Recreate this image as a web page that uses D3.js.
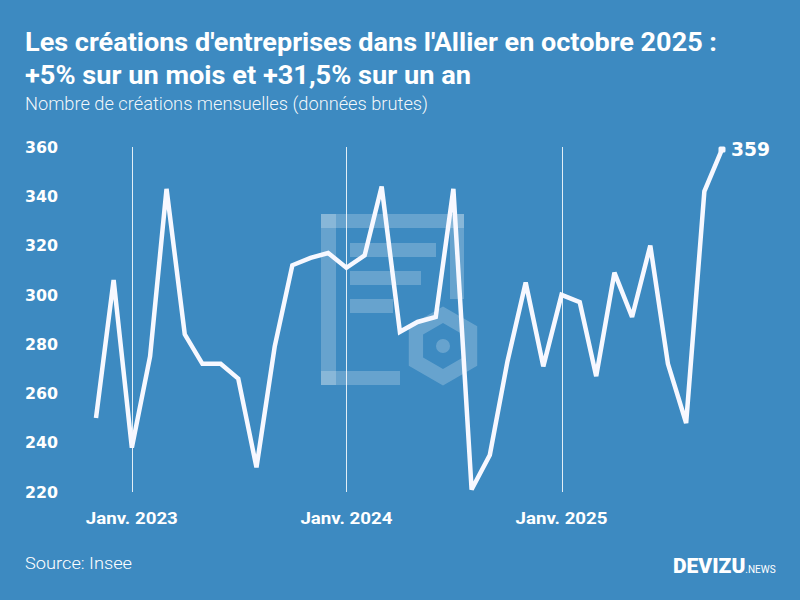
<!DOCTYPE html>
<html>
<head>
<meta charset="utf-8">
<script src="https://cdn.jsdelivr.net/npm/d3@7"></script>
<style>
  html, body { margin: 0; padding: 0; background: #3d8ac1; }
  svg { display: block; }
</style>
</head>
<body>
<svg id="chart" width="800" height="600"></svg>
<script>
// ---- Data ----
const months = [
  "2022-11","2022-12",
  "2023-01","2023-02","2023-03","2023-04","2023-05","2023-06","2023-07","2023-08","2023-09","2023-10","2023-11","2023-12",
  "2024-01","2024-02","2024-03","2024-04","2024-05","2024-06","2024-07","2024-08","2024-09","2024-10","2024-11","2024-12",
  "2025-01","2025-02","2025-03","2025-04","2025-05","2025-06","2025-07","2025-08","2025-09","2025-10"
];
const creations = [
  250, 306,
  238, 275, 343, 284, 272, 272, 266, 230, 279, 312, 315, 317,
  311, 316, 344, 285, 289, 291, 343, 221, 235, 273, 305, 271,
  300, 297, 267, 309, 291, 320, 272, 248, 342, 359
];
const yTicks = [220, 240, 260, 280, 300, 320, 340, 360];
const xTickMonths = ["2023-01", "2024-01", "2025-01"];
const xTickLabels = ["Janv. 2023", "Janv. 2024", "Janv. 2025"];
const titleLines = [
  "Les créations d'entreprises dans l'Allier en octobre 2025 :",
  "+5% sur un mois et +31,5% sur un an"
];
const subtitle = "Nombre de créations mensuelles (données brutes)";
const source = "Source: Insee";

// ---- Setup ----
const parse = d3.timeParse("%Y-%m");
const data = months.map((m, i) => ({ date: parse(m), value: creations[i] }));
const svg = d3.select("#chart");
const W = 800, H = 600;
const white = "#ffffff";

svg.append("rect").attr("width", W).attr("height", H).attr("fill", "#3d8ac1");

const x = d3.scaleTime()
  .domain(d3.extent(data, d => d.date))
  .range([96, 722]);
const y = d3.scaleLinear()
  .domain([220, 360])
  .range([492, 147]);

// ---- Watermark ----
const wm = svg.append("g").attr("fill", white).attr("fill-opacity", 0.22);
wm.append("rect").attr("x", 321).attr("y", 214).attr("width", 143).attr("height", 14);
wm.append("rect").attr("x", 321).attr("y", 214).attr("width", 15).attr("height", 171);
wm.append("rect").attr("x", 450).attr("y", 214).attr("width", 14).attr("height", 85);
wm.append("rect").attr("x", 321).attr("y", 371).attr("width", 79).attr("height", 14);
wm.append("rect").attr("x", 350).attr("y", 243).attr("width", 86).attr("height", 14);
wm.append("rect").attr("x", 350).attr("y", 271).attr("width", 71).attr("height", 14);
wm.append("rect").attr("x", 350).attr("y", 299).attr("width", 43).attr("height", 14);
function hexPts(cx, cy, r) {
  return d3.range(6).map(k => {
    const a = Math.PI / 2 + k * Math.PI / 3;
    return [cx + r * Math.cos(a), cy - r * Math.sin(a)];
  });
}
const hcx = 443, hcy = 346;
const outer = hexPts(hcx, hcy, 39.5), inner = hexPts(hcx, hcy, 23);
const hexPath = "M" + outer.join("L") + "Z" + "M" + inner.reverse().join("L") + "Z";
wm.append("path").attr("d", hexPath).attr("fill-rule", "evenodd");
wm.append("circle").attr("cx", hcx).attr("cy", hcy).attr("r", 7);

// ---- Vertical gridlines at January ----
svg.append("g").selectAll("line")
  .data(xTickMonths)
  .join("line")
  .attr("x1", d => Math.round(x(parse(d))) + 0.5)
  .attr("x2", d => Math.round(x(parse(d))) + 0.5)
  .attr("y1", y(360))
  .attr("y2", y(220))
  .attr("stroke", white)
  .attr("stroke-opacity", 0.85)
  .attr("stroke-width", 1);

// ---- Axes labels ----
svg.append("g").selectAll("text")
  .data(yTicks)
  .join("text")
  .attr("x", 25)
  .attr("y", d => y(d))
  .attr("dy", "0.36em")
  .attr("fill", white)
  .attr("font-family", "'DejaVu Sans', sans-serif")
  .attr("font-weight", "bold")
  .attr("font-size", 16)
  .attr("textLength", 33)
  .attr("lengthAdjust", "spacingAndGlyphs")
  .text(d => d);

svg.append("g").selectAll("text")
  .data(xTickMonths)
  .join("text")
  .attr("x", d => x(parse(d)))
  .attr("y", 524)
  .attr("text-anchor", "middle")
  .attr("fill", white)
  .attr("font-family", "Roboto, sans-serif")
  .attr("font-weight", "bold")
  .attr("font-size", 17)
  .attr("textLength", 92)
  .attr("lengthAdjust", "spacingAndGlyphs")
  .text((d, i) => xTickLabels[i]);

// ---- Line ----
const line = d3.line().x(d => x(d.date)).y(d => y(d.value));
svg.append("path")
  .datum(data)
  .attr("d", line)
  .attr("fill", "none")
  .attr("stroke", "#f7f8ff")
  .attr("stroke-width", 4.5)
  .attr("stroke-linejoin", "miter")
  .attr("stroke-miterlimit", 3);

const last = data[data.length - 1];
svg.append("rect")
  .attr("x", x(last.date) - 3.5)
  .attr("y", y(last.value) - 3)
  .attr("width", 7)
  .attr("height", 6)
  .attr("rx", 1.5)
  .attr("fill", "#f7f8ff");

svg.append("text")
  .attr("x", x(last.date) + 9)
  .attr("y", y(last.value))
  .attr("dy", "0.36em")
  .attr("fill", white)
  .attr("font-family", "'DejaVu Sans', sans-serif")
  .attr("font-weight", "bold")
  .attr("font-size", 19)
  .attr("textLength", 39)
  .attr("lengthAdjust", "spacingAndGlyphs")
  .text(last.value);

// ---- Titles ----
const titleWidths = [692, 446];
svg.append("g").selectAll("text")
  .data(titleLines)
  .join("text")
  .attr("x", 25)
  .attr("y", (d, i) => 51 + i * 33)
  .attr("fill", white)
  .attr("font-family", "Roboto, sans-serif")
  .attr("font-weight", "bold")
  .attr("font-size", 26)
  .attr("textLength", (d, i) => titleWidths[i])
  .attr("lengthAdjust", "spacingAndGlyphs")
  .text(d => d);

svg.append("text")
  .attr("x", 25)
  .attr("y", 110)
  .attr("fill", white)
  .attr("fill-opacity", 0.95)
  .attr("font-family", "Roboto, sans-serif")
  .attr("font-weight", 300)
  .attr("font-size", 18)
  .attr("textLength", 403)
  .attr("lengthAdjust", "spacingAndGlyphs")
  .text(subtitle);

svg.append("text")
  .attr("x", 25)
  .attr("y", 569)
  .attr("fill", white)
  .attr("font-family", "Roboto, sans-serif")
  .attr("font-weight", 300)
  .attr("font-size", 17)
  .attr("textLength", 107)
  .attr("lengthAdjust", "spacingAndGlyphs")
  .text(source);

// ---- Logo ----
const logo = svg.append("text")
  .attr("x", 673)
  .attr("y", 573)
  .attr("fill", white)
  .attr("font-family", "Roboto, sans-serif");
logo.append("tspan")
  .attr("font-weight", 900)
  .attr("font-size", 21)
  .text("DEVIZU");
logo.append("tspan")
  .attr("font-weight", 400)
  .attr("font-size", 10)
  .text(".NEWS");
</script>
</body>
</html>
